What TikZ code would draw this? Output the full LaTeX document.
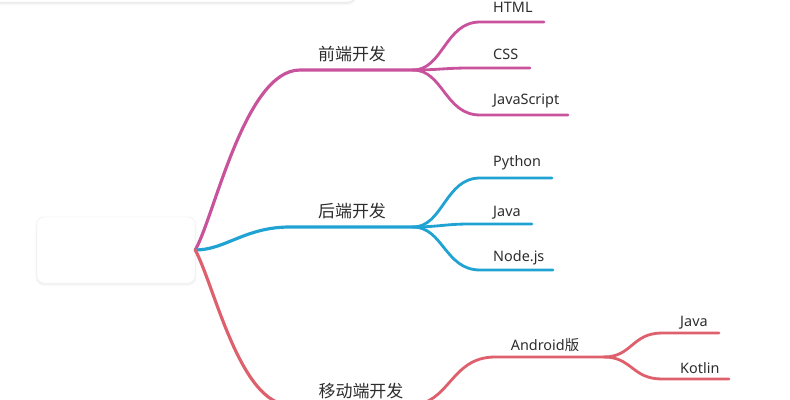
\documentclass[tikz,border=0pt]{standalone}
\usepackage{fontspec}
\setmainfont{Noto Sans}
\newfontfamily\cjk{Noto Sans CJK SC}
\definecolor{frontpink}{RGB}{200, 82, 156}
\definecolor{backblue}{RGB}{32, 163, 210}
\definecolor{mobilered}{RGB}{221, 96, 108}
\definecolor{labelgray}{RGB}{45, 45, 45}
\usepackage{tikz}
\usetikzlibrary{positioning, calc, shadows.blur}

\begin{document}
\begin{tikzpicture}[x=0.03cm, y=-0.03cm,
  branch/.style={line width=2.7pt, line cap=round},
  twig/.style={line width=2.4pt, line cap=round},
  topic/.style={font=\cjk\fontsize{14.5}{16}\selectfont, text=labelgray, inner sep=0pt, anchor=base},
  leaf/.style={font=\fontsize{12.3}{14}\selectfont, text=labelgray, inner sep=0pt, anchor=base west}]
  \useasboundingbox (0,0) rectangle (790,400);
  \clip (0,0) rectangle (790,400);

  % Panels
  \fill[white, draw=black!7, rounded corners=6pt, blur shadow={shadow blur steps=6, shadow opacity=12, shadow xshift=0pt, shadow yshift=-1pt}] (-20,-60) rectangle (355,2);
  \node[draw=black!5, fill=white, rounded corners=6pt, minimum width=4.74cm, minimum height=1.98cm, blur shadow={shadow blur steps=6, shadow opacity=10, shadow xshift=0pt, shadow yshift=-1pt}] (root) at (116,250) {};

  % Front end
  \coordinate (fe) at (300,70);
  \coordinate (feFork) at (413,70);
  \draw[branch, frontpink] (root.east) .. controls +(19,-33) and +(-55,0) .. (fe) -- (feFork);
  \node[topic] (front) at (352,61) {前端开发};
  \coordinate (htmlA) at (480,22);   \coordinate (htmlB) at (544,22);
  \coordinate (cssA) at (470,68);    \coordinate (cssB) at (530,68);
  \coordinate (jsA) at (480,115);    \coordinate (jsB) at (568,115);
  \draw[twig, frontpink] (feFork) .. controls +(30,0) and +(-35,0) .. (htmlA) -- (htmlB);
  \draw[twig, frontpink] (feFork) .. controls +(25,0) and +(-25,0) .. (cssA) -- (cssB);
  \draw[twig, frontpink] (feFork) .. controls +(30,0) and +(-35,0) .. (jsA) -- (jsB);
  \node[leaf] (html) at (493,13) {HTML};
  \node[leaf] (css) at (493,60) {CSS};
  \node[leaf] (js) at (493,105) {JavaScript};

  % Back end
  \coordinate (be) at (290,227);
  \coordinate (beFork) at (413,227);
  \draw[branch, backblue] (root.east) .. controls +(30,0) and +(-45,0) .. (be) -- (beFork);
  \node[topic] (back) at (352,217) {后端开发};
  \coordinate (pyA) at (480,178);    \coordinate (pyB) at (552,178);
  \coordinate (javaA) at (470,224);  \coordinate (javaB) at (532,224);
  \coordinate (nodeA) at (480,270);  \coordinate (nodeB) at (553,270);
  \draw[twig, backblue] (beFork) .. controls +(30,0) and +(-35,0) .. (pyA) -- (pyB);
  \draw[twig, backblue] (beFork) .. controls +(25,0) and +(-25,0) .. (javaA) -- (javaB);
  \draw[twig, backblue] (beFork) .. controls +(30,0) and +(-35,0) .. (nodeA) -- (nodeB);
  \node[leaf] (python) at (493,167) {Python};
  \node[leaf] (java) at (493,216) {Java};
  \node[leaf] (nodejs) at (493,261) {Node.js};

  % Mobile
  \coordinate (mo) at (290,405);
  \coordinate (moFork) at (410,405);
  \draw[branch, mobilered] (root.east) .. controls +(19,35) and +(-50,0) .. (mo) -- (moFork);
  \node[topic] (mobile) at (361,397) {移动端开发};
  \coordinate (andA) at (495,357);
  \coordinate (andFork) at (604,357);
  \draw[twig, mobilered] (moFork) .. controls +(40,0) and +(-45,0) .. (andA) -- (andFork);
  \node[leaf, anchor=base] (android) at (545,350) {Android{\cjk 版}};
  \coordinate (mjA) at (662,333);    \coordinate (mjB) at (719,333);
  \coordinate (ktA) at (662,379);    \coordinate (ktB) at (729,379);
  \draw[twig, mobilered] (andFork) .. controls +(28,0) and +(-30,0) .. (mjA) -- (mjB);
  \draw[twig, mobilered] (andFork) .. controls +(28,0) and +(-30,0) .. (ktA) -- (ktB);
  \node[leaf] (mjava) at (680,326) {Java};
  \node[leaf] (kotlin) at (680,373) {Kotlin};
\end{tikzpicture}
\end{document}
